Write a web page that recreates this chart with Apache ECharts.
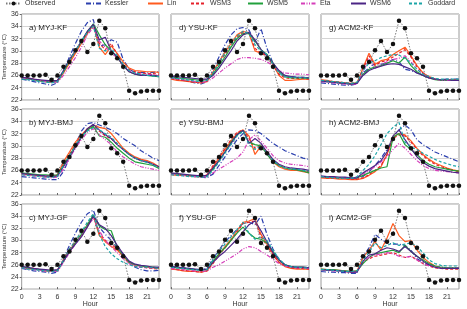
<!DOCTYPE html>
<html>
<head>
<meta charset="utf-8">
<script src="https://cdn.jsdelivr.net/npm/echarts@6/dist/echarts.min.js"></script>
<style>
html,body{margin:0;padding:0;background:#fff}
#main{width:467px;height:309px}
</style>
</head>
<body>
<div id="main"></div>
<script>
var hours = [0,1,2,3,4,5,6,7,8,9,10,11,12,13,14,15,16,17,18,19,20,21,22,23];

var observed = [26.0,26.0,26.0,26.0,26.1,25.3,26.0,27.4,28.2,30.1,31.6,29.8,31.1,34.9,33.7,29.6,28.8,27.4,23.5,23.1,23.4,23.5,23.5,23.5];

var models = ['Kessler','Lin','WSM3','WSM5','Eta','WSM6','Goddard'];
var panelTitles = ['a) MYJ-KF','d) YSU-KF','g) ACM2-KF','b) MYJ-BMJ','e) YSU-BMJ','h) ACM2-BMJ','c) MYJ-GF','f) YSU-GF','i) ACM2-GF'];

// each panel: one row per model, same order as models
var panelA = [
  [25.4,25.2,25.0,24.8,24.6,24.4,24.8,26.8,29.0,31.2,33.2,34.6,35.1,30.8,31.0,31.8,31.4,28.6,27.0,26.5,26.5,26.4,26.5,26.6],
  [25.6,25.5,25.3,25.2,25.0,24.9,25.0,26.4,28.0,29.6,31.2,32.8,34.2,30.6,29.4,30.8,29.6,28.2,27.2,26.8,26.7,26.6,26.6,26.5],
  [25.7,25.5,25.4,25.2,25.1,25.0,25.2,26.6,28.3,29.9,31.4,33.0,34.2,31.2,30.2,31.2,29.4,27.8,27.0,26.6,26.4,26.3,26.3,26.2],
  [25.5,25.4,25.3,25.1,25.0,24.9,25.1,26.6,28.4,30.0,31.5,33.1,34.4,32.6,31.0,30.0,29.0,27.6,26.6,26.2,26.0,26.0,25.9,25.8],
  [25.6,25.4,25.3,25.2,25.0,24.9,24.9,26.0,27.4,28.9,30.6,32.6,33.8,31.6,30.6,29.8,28.8,27.6,26.7,26.3,26.2,26.2,26.1,26.0],
  [25.7,25.6,25.4,25.3,25.2,25.1,25.2,26.8,28.6,30.0,31.6,33.2,34.3,31.8,32.2,30.0,29.0,27.6,26.6,26.2,26.0,26.0,26.0,25.9],
  [25.4,25.3,25.2,25.0,24.9,24.8,25.0,26.6,28.4,30.0,31.6,33.0,34.0,30.4,30.0,30.4,29.2,27.8,26.8,26.4,26.2,26.0,25.9,25.8]
];
var panelD = [
  [25.6,25.4,25.2,25.0,24.8,24.6,25.0,27.0,29.0,31.0,32.6,33.6,33.8,33.4,31.4,33.6,30.4,28.0,26.4,25.8,25.8,25.7,25.7,25.6],
  [25.4,25.2,25.1,25.0,24.9,24.8,25.0,26.6,28.2,29.8,31.2,32.6,33.2,32.8,30.0,29.6,29.4,27.8,26.0,25.2,25.2,25.3,25.4,25.4],
  [25.5,25.3,25.2,25.0,24.9,24.8,25.1,26.4,28.0,29.4,30.8,32.2,33.0,33.0,30.4,29.6,29.2,27.6,26.2,25.6,25.5,25.5,25.5,25.4],
  [25.8,25.6,25.5,25.4,25.3,25.2,25.3,26.2,27.6,29.0,30.6,32.0,32.8,32.8,31.6,30.2,29.4,28.0,26.6,25.8,25.6,25.6,25.6,25.5],
  [25.6,25.4,25.3,25.2,25.0,24.9,25.0,25.6,26.4,27.2,27.9,28.6,28.9,28.9,28.8,28.6,28.2,27.6,26.8,26.4,26.3,26.2,26.2,26.1],
  [25.9,25.8,25.7,25.6,25.5,25.4,25.4,26.0,27.2,28.6,30.0,31.6,32.6,33.0,31.8,30.2,29.2,28.0,26.8,26.0,25.8,25.7,25.7,25.6],
  [25.6,25.5,25.4,25.2,25.1,25.0,25.2,26.4,28.0,29.6,31.0,32.4,33.2,32.8,31.0,30.0,29.4,27.8,26.4,25.8,25.7,25.7,25.6,25.6]
];
var panelG = [
  [24.8,24.7,24.6,24.5,24.4,24.4,24.6,26.4,27.2,28.0,27.8,28.0,28.6,28.2,27.0,26.8,26.4,26.0,25.6,25.4,25.3,25.4,25.4,25.4],
  [25.3,25.2,25.0,24.9,24.8,24.7,24.8,27.2,29.6,27.8,28.4,28.6,29.4,30.0,30.6,29.2,27.6,26.4,25.8,25.4,25.3,25.3,25.3,25.3],
  [25.2,25.1,25.0,24.9,24.8,24.7,24.8,27.0,29.2,27.6,28.2,28.4,29.0,29.6,30.2,29.0,27.4,26.4,25.8,25.4,25.2,25.2,25.2,25.2],
  [25.1,25.0,24.9,24.8,24.7,24.6,24.8,26.2,27.0,27.4,27.6,28.0,28.4,28.0,29.0,27.6,26.6,26.0,25.6,25.3,25.2,25.2,25.2,25.2],
  [25.0,24.9,24.8,24.7,24.6,24.5,24.6,26.6,28.6,27.2,27.8,28.2,28.6,28.8,29.2,28.2,27.0,26.2,25.6,25.4,25.2,25.2,25.2,25.2],
  [25.1,25.0,24.9,24.8,24.7,24.6,24.7,26.0,26.8,27.2,27.5,27.8,27.9,27.8,27.4,27.0,26.4,26.0,25.6,25.4,25.3,25.3,25.2,25.2],
  [25.2,25.1,25.0,24.9,24.8,24.7,24.9,26.8,28.0,28.4,28.9,29.2,29.4,29.3,28.8,28.0,27.0,26.2,25.8,25.5,25.4,25.4,25.4,25.4]
];
var panelB = [
  [25.0,24.9,24.8,24.7,24.6,24.5,24.5,25.8,28.0,30.2,32.4,33.6,33.8,33.4,33.0,32.6,32.0,31.2,30.6,30.0,29.2,28.6,28.0,27.6],
  [25.4,25.3,25.2,25.1,25.0,25.0,25.2,27.4,29.0,30.6,31.8,32.8,33.4,33.0,32.8,32.0,30.8,29.6,28.8,28.2,27.8,27.6,27.2,26.6],
  [25.5,25.4,25.3,25.2,25.1,25.1,25.3,27.0,28.6,30.2,31.6,32.6,33.3,32.4,31.6,31.2,30.2,29.4,28.6,28.0,27.6,27.4,27.0,26.4],
  [25.6,25.5,25.4,25.3,25.3,25.2,25.3,26.8,28.4,30.0,31.4,32.6,33.2,31.6,31.4,30.6,29.6,28.8,28.0,27.4,27.2,27.0,26.8,26.3],
  [25.3,25.2,25.1,25.0,24.9,24.8,24.9,26.2,28.0,29.6,31.0,32.2,32.8,31.8,31.0,30.2,29.0,28.2,27.6,27.0,26.6,26.4,26.2,26.0],
  [25.5,25.4,25.3,25.2,25.1,25.0,25.1,26.6,28.2,29.8,31.4,32.8,33.5,32.6,31.8,31.2,30.2,29.4,28.6,28.0,27.6,27.4,27.0,26.6],
  [25.3,25.2,25.1,25.0,24.9,24.9,25.0,26.8,28.4,30.0,31.6,32.4,33.0,32.6,32.0,31.4,30.4,29.4,28.6,28.0,27.6,27.3,26.9,26.4]
];
var panelE = [
  [25.5,25.4,25.3,25.2,25.0,24.9,24.8,25.4,26.8,28.2,29.6,31.0,32.0,32.6,32.5,32.0,31.2,30.4,29.8,29.2,28.8,28.4,28.0,27.8],
  [25.3,25.2,25.2,25.1,25.0,25.0,25.2,26.6,28.0,29.4,30.8,32.0,32.6,31.6,28.6,30.0,28.8,27.4,26.6,26.2,26.0,26.0,25.8,25.6],
  [25.4,25.3,25.2,25.1,25.1,25.0,25.3,26.8,28.2,29.6,31.0,32.2,32.6,31.2,29.6,30.2,29.0,27.6,26.8,26.4,26.2,26.1,26.0,25.8],
  [25.5,25.4,25.3,25.2,25.1,25.0,25.1,26.2,27.6,29.0,30.6,31.8,32.5,30.6,30.2,30.0,28.6,27.4,26.8,26.4,26.2,26.1,25.9,25.6],
  [25.4,25.3,25.2,25.1,25.0,24.9,25.0,25.6,26.2,26.8,27.4,28.0,29.0,31.0,31.8,30.8,29.6,28.4,27.6,27.2,27.0,26.9,26.8,26.6],
  [25.6,25.5,25.4,25.3,25.2,25.1,25.2,26.4,27.6,29.0,30.4,31.8,32.5,30.4,31.2,30.4,29.0,27.8,27.0,26.6,26.4,26.3,26.2,26.0],
  [25.3,25.2,25.1,25.0,25.0,24.9,25.0,26.0,27.4,28.8,30.2,31.6,32.4,30.2,29.4,30.0,28.8,27.6,26.8,26.4,26.2,26.2,26.0,25.9]
];
var panelH = [
  [24.9,24.9,24.8,24.8,24.7,24.7,24.8,25.0,25.8,26.8,28.0,29.4,31.0,32.6,33.4,32.6,31.0,30.2,29.6,29.0,28.6,28.2,27.8,27.4],
  [24.8,24.7,24.7,24.6,24.6,24.5,24.5,24.7,25.2,25.8,26.6,28.6,31.4,32.0,31.8,30.8,29.6,28.6,27.8,27.2,26.8,26.4,26.1,25.9],
  [24.9,24.8,24.8,24.7,24.7,24.6,24.6,24.8,25.3,26.0,26.8,28.6,31.2,31.8,31.6,30.6,29.4,28.4,27.6,27.0,26.6,26.3,26.0,25.8],
  [25.0,24.9,24.9,24.8,24.8,24.7,24.8,25.2,25.6,26.0,26.4,26.6,31.4,32.0,30.2,29.4,28.6,27.6,27.0,26.6,26.4,26.2,26.0,25.9],
  [25.0,24.9,24.9,24.8,24.8,24.7,24.9,25.4,26.0,26.6,27.4,28.2,29.4,30.4,29.6,28.6,27.6,26.8,26.3,26.0,25.9,25.8,25.7,25.6],
  [25.1,25.0,25.0,24.9,24.9,24.8,24.8,25.6,26.2,26.8,27.6,29.0,31.6,32.6,31.0,29.6,28.2,27.3,26.7,26.3,26.1,25.9,25.7,25.6],
  [25.0,24.9,24.8,24.8,24.7,24.7,25.0,26.0,27.0,28.4,30.2,32.0,33.0,33.8,30.6,29.8,29.4,28.8,28.3,27.8,27.4,27.1,26.8,26.6]
];
var panelC = [
  [25.4,25.2,25.0,24.9,24.8,24.6,24.8,27.0,29.2,31.2,33.0,34.4,35.0,32.2,31.0,30.0,28.8,27.8,26.4,25.6,25.2,25.0,25.0,25.1],
  [25.6,25.4,25.3,25.2,25.0,24.9,25.0,26.8,28.4,29.6,30.8,32.4,34.0,30.8,29.8,29.0,28.4,27.4,26.4,26.0,25.8,25.6,25.5,25.4],
  [25.7,25.5,25.4,25.2,25.1,25.0,25.1,26.8,28.6,29.8,31.0,32.6,34.2,31.2,30.0,29.4,28.6,27.4,26.2,25.8,25.6,25.5,25.4,25.3],
  [25.6,25.5,25.3,25.2,25.1,25.0,25.1,26.6,28.2,29.6,31.0,32.6,34.2,32.4,31.8,31.6,28.8,27.6,26.4,26.0,25.8,25.7,25.6,25.5],
  [25.5,25.3,25.2,25.1,25.0,24.9,24.9,26.4,28.0,29.4,30.8,32.4,33.6,31.6,30.0,29.0,28.0,27.0,26.2,25.8,25.6,25.5,25.5,25.4],
  [25.7,25.6,25.4,25.3,25.2,25.1,25.2,26.6,28.2,29.4,30.6,32.2,34.0,32.6,32.0,30.8,29.2,27.8,26.6,26.1,25.9,25.8,25.6,25.6],
  [25.5,25.3,25.2,25.1,25.0,24.9,25.0,26.8,28.6,30.0,31.4,33.0,34.4,31.0,29.0,27.8,27.0,26.4,26.0,25.7,25.6,25.6,25.5,25.4]
];
var panelF = [
  [25.8,25.6,25.5,25.4,25.2,25.1,25.4,27.0,28.4,29.8,30.8,31.8,32.8,33.0,32.6,34.0,31.0,28.6,26.8,25.9,25.6,25.5,25.5,25.6],
  [25.3,25.2,25.0,24.9,24.9,24.8,25.0,26.4,27.8,29.0,30.2,31.6,33.0,33.2,33.6,31.0,29.4,27.8,26.4,25.7,25.4,25.3,25.3,25.3],
  [25.4,25.2,25.1,25.0,24.9,24.8,25.0,26.2,27.6,28.8,30.0,31.4,32.8,33.0,33.2,30.6,29.2,27.6,26.4,25.8,25.5,25.4,25.4,25.3],
  [25.6,25.5,25.4,25.3,25.2,25.1,25.2,26.6,27.8,28.8,30.0,31.2,32.2,31.2,30.4,30.2,29.6,28.2,26.8,26.0,25.7,25.6,25.6,25.5],
  [25.4,25.3,25.2,25.1,25.0,24.9,25.0,25.6,26.0,26.6,27.2,27.8,28.6,29.0,28.8,28.2,27.6,26.9,26.2,25.8,25.6,25.5,25.5,25.4],
  [25.7,25.6,25.5,25.4,25.3,25.2,25.3,26.4,27.4,28.2,29.2,30.2,31.4,32.6,33.2,31.6,29.8,28.0,26.8,26.0,25.7,25.6,25.6,25.5],
  [25.6,25.5,25.4,25.3,25.2,25.1,25.2,26.8,28.2,29.4,30.6,31.8,33.0,31.2,30.2,30.6,30.0,28.4,27.0,26.0,25.7,25.6,25.5,25.5]
];
var panelI = [
  [24.9,24.8,24.8,24.7,24.7,24.6,24.6,27.4,28.8,31.0,30.2,29.6,29.4,29.4,29.2,28.4,27.0,26.4,26.0,25.7,25.6,25.5,25.5,25.5],
  [25.3,25.2,25.2,25.1,25.0,24.9,25.0,27.2,28.4,29.8,28.4,30.4,32.8,30.8,29.8,30.0,28.4,27.2,26.4,25.8,25.5,25.4,25.4,25.4],
  [25.2,25.1,25.1,25.0,24.9,24.8,24.9,26.4,27.0,27.4,27.6,27.8,28.0,27.6,27.2,27.4,26.8,26.2,25.8,25.5,25.4,25.3,25.3,25.3],
  [25.3,25.2,25.2,25.1,25.0,24.9,25.0,26.2,27.2,27.8,28.0,28.2,28.4,28.0,29.2,28.2,27.4,26.8,26.2,25.8,25.6,25.5,25.5,25.4],
  [25.2,25.1,25.0,25.0,24.9,24.8,24.8,26.6,27.2,27.6,27.8,28.0,27.8,27.4,27.2,27.4,26.8,26.2,25.8,25.6,25.5,25.4,25.4,25.4],
  [25.2,25.1,25.1,25.0,24.9,24.8,24.8,26.6,27.6,27.8,28.4,28.8,28.6,28.2,29.0,28.2,27.4,26.6,26.0,25.6,25.4,25.4,25.4,25.4],
  [25.2,25.2,25.1,25.0,24.9,24.9,25.0,26.8,28.0,29.6,28.8,29.2,29.6,29.2,29.4,29.6,29.0,28.0,26.8,26.2,25.9,25.8,25.8,25.8]
];
var panels = [panelA, panelD, panelG, panelB, panelE, panelH, panelC, panelF, panelI];

// looks of each model line
var modelColors = ['#2b3fae','#ff5b1f','#e5212b','#21a03c','#d53fba','#4b2585','#1ca5a8'];
var modelDash = [[5,2,1,2],'solid',[3,2],'solid',[4,1.5,1,1.5,1,1.5],'solid',[3,2]];

var colLeft = [21, 171, 321];
var rowTop = [14, 109, 204];
var gw = 138, gh = 86;
var font = 'Liberation Sans, Arial, sans-serif';

var myChart = echarts.init(document.getElementById('main'));

var grids = [], xAxes = [], yAxes = [], series = [], titles = [];
for (var p = 0; p < 9; p++) {
    var r = Math.floor(p / 3), c = p % 3;
    grids.push({left: colLeft[c], top: rowTop[r], width: gw, height: gh,
        show: true, borderColor: '#9a9a9a', borderWidth: 1});
    xAxes.push({
        gridIndex: p, type: 'value', min: 0, max: 23, interval: 3,
        axisLine: {show: false},
        axisTick: {show: true, inside: true, length: 2, lineStyle: {color: '#666'}},
        splitLine: {show: false},
        axisLabel: {show: r == 2, showMaxLabel: false, fontSize: 7, color: '#333', margin: 4, fontFamily: font},
        name: r == 2 ? 'Hour' : '', nameLocation: 'middle', nameGap: 11,
        nameTextStyle: {fontSize: 7, color: '#333', fontFamily: font}
    });
    yAxes.push({
        gridIndex: p, type: 'value', min: 22, max: 36, interval: 2,
        axisLine: {show: false},
        axisTick: {show: c == 0, length: 2, lineStyle: {color: '#666'}},
        splitLine: {show: true, lineStyle: {color: '#d4d4d4', width: 1}},
        axisLabel: {show: c == 0, fontSize: 7, color: '#333', margin: 3, fontFamily: font},
        name: c == 0 ? 'Temperature (°C)' : '', nameLocation: 'middle', nameGap: 11,
        nameTextStyle: {fontSize: 6, color: '#333', fontFamily: font}
    });
    titles.push({
        text: panelTitles[p], left: colLeft[c] + 3, top: rowTop[r] + 5,
        textStyle: {fontSize: 8, fontWeight: 'normal', color: '#222', fontFamily: font}
    });
    for (var m = 0; m < models.length; m++) {
        series.push({
            name: models[m], type: 'line', xAxisIndex: p, yAxisIndex: p,
            symbol: 'none', showSymbol: false,
            color: modelColors[m],
            lineStyle: {color: modelColors[m], width: 1.2, type: modelDash[m]},
            data: hours.map(function (h, i) { return [h, panels[p][m][i]]; }),
            z: 2
        });
    }
    series.push({
        name: 'Observed', type: 'line', xAxisIndex: p, yAxisIndex: p,
        symbol: 'circle', symbolSize: 4.5, showSymbol: true,
        color: '#111',
        itemStyle: {color: '#111'},
        lineStyle: {color: '#7a7a7a', width: 1, type: [1.5, 1.5]},
        data: hours.map(function (h, i) { return [h, observed[i]]; }),
        z: 3
    });
}

// one legend per entry so each sits where it does in the figure
var legendNames = ['Observed','Kessler','Lin','WSM3','WSM5','Eta','WSM6','Goddard'];
var legendLeft = [5, 85, 147, 190, 247, 300, 350, 408];
var legends = legendNames.map(function (n, i) {
    var lg = {
        data: [n], left: legendLeft[i], top: 0, padding: 0,
        itemWidth: 15, itemHeight: 5, itemGap: 4,
        textStyle: {fontSize: 7, color: '#333', fontFamily: font, padding: [0, 0, 0, -1]},
        selectedMode: false
    };
    if (n != 'Observed') lg.itemStyle = {opacity: 0};
    return lg;
});

var option = {
    animation: false,
    backgroundColor: '#fff',
    title: titles,
    legend: legends,
    grid: grids,
    xAxis: xAxes,
    yAxis: yAxes,
    series: series
};
myChart.setOption(option);
</script>
</body>
</html>
